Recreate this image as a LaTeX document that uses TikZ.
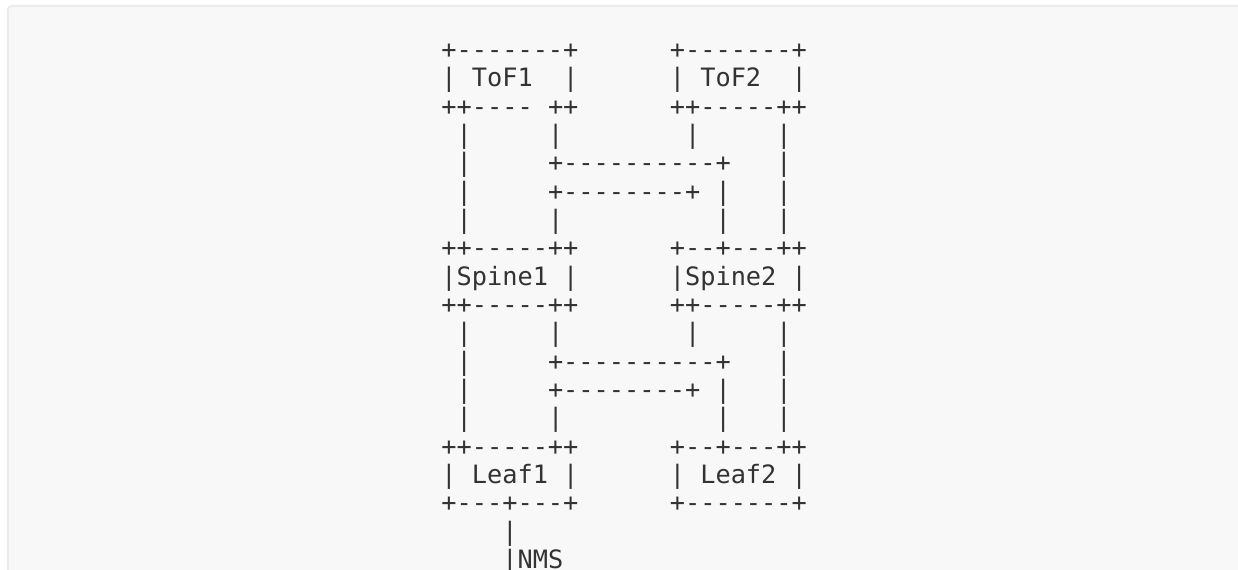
\documentclass[tikz,border=0pt]{standalone}
\usepackage{fontspec}
\setmonofont{DejaVu Sans Mono}
\definecolor{panelfill}{HTML}{F8F8F8}
\definecolor{panelline}{HTML}{EBEBEB}
\definecolor{ink}{HTML}{333333}
\newcommand\asc[4]{\node[ascii] (#1) at ({441.4+15.23*#3},{58.4+28.33*#2}) {#4};}
\begin{document}
\begin{tikzpicture}[x=0.75pt,y=-0.75pt,
  ascii/.style={anchor=base west,inner sep=0pt,outer sep=0pt,text=ink,
    font=\ttfamily\fontsize{18.97}{21}\selectfont},
  panel/.style={fill=panelfill,draw=panelline,line width=1.5pt,rounded corners=3pt}]
\useasboundingbox (0,0) rectangle (1238,570);
\fill[white] (0,0) rectangle (1238,570);
\begin{scope}
\clip (0,0) rectangle (1238,570);
\draw[panel] (7.8,6) rectangle (1260,600);
\end{scope}
% row 0
\asc{a0}{0}{0}{+-------+}
\asc{b0}{0}{15}{+-------+}
% row 1
\asc{a1l}{1}{0}{|}
\asc{tof1}{1}{2}{ToF1}
\asc{a1r}{1}{8}{|}
\asc{b1l}{1}{15}{|}
\asc{tof2}{1}{17}{ToF2}
\asc{b1r}{1}{23}{|}
% row 2
\asc{a2}{2}{0}{++----}
\asc{a2r}{2}{7}{++}
\asc{b2}{2}{15}{++-----++}
% row 3
\asc{c3a}{3}{1}{|}
\asc{c3b}{3}{7}{|}
\asc{c3c}{3}{16}{|}
\asc{c3d}{3}{22}{|}
% row 4
\asc{c4a}{4}{1}{|}
\asc{c4b}{4}{7}{+----------+}
\asc{c4d}{4}{22}{|}
% row 5
\asc{c5a}{5}{1}{|}
\asc{c5b}{5}{7}{+--------+}
\asc{c5c}{5}{18}{|}
\asc{c5d}{5}{22}{|}
% row 6
\asc{c6a}{6}{1}{|}
\asc{c6b}{6}{7}{|}
\asc{c6c}{6}{18}{|}
\asc{c6d}{6}{22}{|}
% row 7
\asc{a7}{7}{0}{++-----++}
\asc{b7}{7}{15}{+--+---++}
% row 8
\asc{spine1}{8}{0}{|Spine1}
\asc{a8r}{8}{8}{|}
\asc{spine2}{8}{15}{|Spine2}
\asc{b8r}{8}{23}{|}
% row 9
\asc{a9}{9}{0}{++-----++}
\asc{b9}{9}{15}{++-----++}
% row 10
\asc{d10a}{10}{1}{|}
\asc{d10b}{10}{7}{|}
\asc{d10c}{10}{16}{|}
\asc{d10d}{10}{22}{|}
% row 11
\asc{d11a}{11}{1}{|}
\asc{d11b}{11}{7}{+----------+}
\asc{d11d}{11}{22}{|}
% row 12
\asc{d12a}{12}{1}{|}
\asc{d12b}{12}{7}{+--------+}
\asc{d12c}{12}{18}{|}
\asc{d12d}{12}{22}{|}
% row 13
\asc{d13a}{13}{1}{|}
\asc{d13b}{13}{7}{|}
\asc{d13c}{13}{18}{|}
\asc{d13d}{13}{22}{|}
% row 14
\asc{a14}{14}{0}{++-----++}
\asc{b14}{14}{15}{+--+---++}
% row 15
\asc{a15l}{15}{0}{|}
\asc{leaf1}{15}{2}{Leaf1}
\asc{a15r}{15}{8}{|}
\asc{b15l}{15}{15}{|}
\asc{leaf2}{15}{17}{Leaf2}
\asc{b15r}{15}{23}{|}
% row 16
\asc{a16}{16}{0}{+---+---+}
\asc{b16}{16}{15}{+-------+}
% rows 17-18
\asc{n17}{17}{4}{|}
\asc{nms}{18}{4}{|NMS}
\end{tikzpicture}
\end{document}
